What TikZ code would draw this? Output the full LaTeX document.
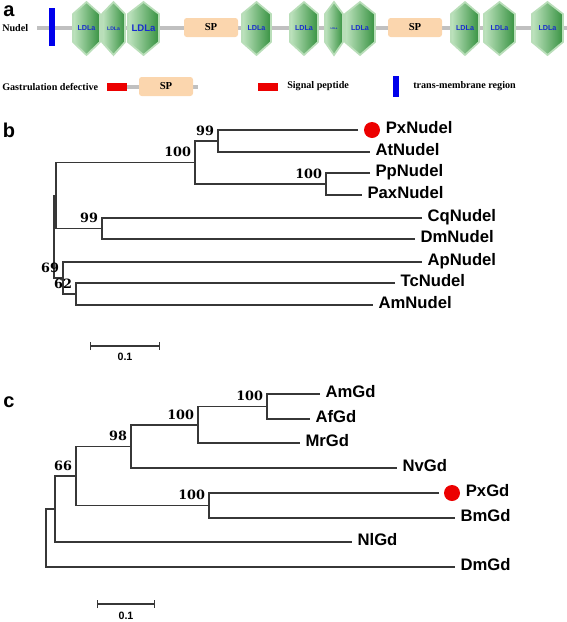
\documentclass[tikz,border=0pt]{standalone}
\usepackage{fontspec}
\setmainfont{Liberation Serif}
\setsansfont{Liberation Sans}
\newfontfamily\bootfont{DejaVu Serif}
\usetikzlibrary{calc,arrows.meta}

\definecolor{ldlagreen}{RGB}{55,146,65}
\definecolor{ldlalight}{RGB}{192,228,192}
\definecolor{ldlaedge}{RGB}{185,222,185}
\definecolor{ldlatext}{RGB}{25,45,205}
\definecolor{spfill}{RGB}{251,214,174}
\definecolor{backbone}{RGB}{192,192,192}
\definecolor{tmblue}{RGB}{0,0,235}
\definecolor{sigred}{RGB}{236,0,0}
\definecolor{treegrey}{RGB}{55,55,55}

\begin{document}
\begin{tikzpicture}[x=0.75pt,y=-0.75pt,
    panel/.style={inner sep=0pt, font=\sffamily\bfseries\fontsize{15}{15}\selectfont},
    lab/.style={anchor=mid west, inner sep=0pt, font=\bfseries\fontsize{7.6}{9}\selectfont},
    ldla/.style={draw=ldlaedge, line width=1.3pt, left color=ldlalight, right color=ldlagreen},
    spbox/.style={fill=spfill, rounded corners=2pt},
    branch/.style={draw=treegrey, line width=0.9pt},
    tiplab/.style={anchor=mid west, inner sep=0pt, xshift=4pt, font=\sffamily\bfseries\fontsize{12.5}{14}\selectfont},
    boot/.style={anchor=south east, inner sep=0pt, xshift=-2.8pt, yshift=4pt, font=\bootfont\bfseries\fontsize{9.6}{11}\selectfont},
    reddot/.style={circle, fill=sigred, minimum size=12pt, inner sep=0pt},
    scalebar/.style={branch, {Bar[width=6pt]}-{Bar[width=6pt]}},
    scalelab/.style={inner sep=0pt, font=\sffamily\bfseries\fontsize{8}{9}\selectfont}]
    \useasboundingbox (0,0) rectangle (567,622);

    % panel a: domain structure
    \node[panel] (pa) at (9,11) {a};
    \node[lab] (nudel) at (2,28) {Nudel};
    \draw[backbone, line width=3.4pt] (37,28) -- (567,28);
    \fill[tmblue] (49,8) rectangle (55,46);
    \foreach \cx/\hw/\fs [count=\i] in {86.5/13.5/5.4, 113.5/11.5/3.8, 143.5/15.5/7.2,
        256.5/14.5/5.4, 304/14/5.4, 334/9/2, 360/15/5.4, 465/14/5.4, 499.5/15.5/5.4, 547.5/15.5/5.4}{
        \draw[ldla] (\cx,2) -- (\cx+\hw,14) -- (\cx+\hw,42) -- (\cx,55)
            -- (\cx-\hw,42) -- (\cx-\hw,14) -- cycle;
        \node[text=ldlatext, inner sep=0pt, font=\sffamily\bfseries\fontsize{\fs}{\fs}\selectfont]
            (ldla\i) at (\cx,28.5) {LDLa};
    }
    \foreach \xl/\xr [count=\i] in {184/238, 388/442}{
        \fill[spbox] (\xl,18) rectangle (\xr,37);
        \node[inner sep=0pt, font=\bfseries\fontsize{8}{9}\selectfont] (sp\i) at ({(\xl+\xr)/2},27.5) {SP};
    }
    % legend row
    \node[lab] (gd) at (2,87) {Gastrulation defective};
    \draw[backbone, line width=3.4pt] (127,87) -- (198,87);
    \fill[sigred] (107,83) rectangle (127,91);
    \fill[spbox] (139,77) rectangle (193,96);
    \node[inner sep=0pt, font=\bfseries\fontsize{8}{9}\selectfont] (sp3) at (166,86.5) {SP};
    \fill[sigred] (258,83) rectangle (278,91);
    \node[lab] (sig) at (287,85) {Signal peptide};
    \fill[tmblue] (393,76) rectangle (399,97);
    \node[lab] (tm) at (413,85) {trans-membrane region};

    % panel b: Nudel tree
    \node[panel] (pb) at (9,130) {b};
    \coordinate (px) at (358,130);
    \coordinate (at) at (370,152);
    \coordinate (pp) at (370,173);
    \coordinate (pax) at (362,195);
    \coordinate (cq) at (422,218);
    \coordinate (dm) at (415,239);
    \coordinate (ap) at (422,262);
    \coordinate (tc) at (395,283);
    \coordinate (am) at (373,305);
    \coordinate (nPxAt) at (218,141);
    \coordinate (nPpPax) at (326,184);
    \coordinate (nPx) at (195,162.5);
    \coordinate (nCqDm) at (102,228.5);
    \coordinate (nUp) at (56,195.5);
    \coordinate (nTcAm) at (76,294);
    \coordinate (nLow) at (63,278);
    \coordinate (rootb) at (54,237);
    \draw[branch] (px) -| (nPxAt) |- (at);
    \draw[branch] (pp) -| (nPpPax) |- (pax);
    \draw[branch] (nPxAt) -| (nPx) |- (nPpPax);
    \draw[branch] (cq) -| (nCqDm) |- (dm);
    \draw[branch] (nPx) -| (nUp) |- (nCqDm);
    \draw[branch] (tc) -| (nTcAm) |- (am);
    \draw[branch] (ap) -| (nLow) |- (nTcAm);
    \draw[branch] (nUp) -| (rootb) |- (nLow);
    \node[reddot] (dpx) at (372,130) {};
    \node[tiplab] (lpx) at (dpx.east) {PxNudel};
    \node[tiplab] (lat) at (at) {AtNudel};
    \node[tiplab] (lpp) at (pp) {PpNudel};
    \node[tiplab] (lpax) at (pax) {PaxNudel};
    \node[tiplab] (lcq) at (cq) {CqNudel};
    \node[tiplab] (ldm) at (dm) {DmNudel};
    \node[tiplab] (lap) at (ap) {ApNudel};
    \node[tiplab] (ltc) at (tc) {TcNudel};
    \node[tiplab] (lam) at (am) {AmNudel};
    \node[boot] (b1) at (nPxAt) {99};
    \node[boot] (b2) at (nPx) {100};
    \node[boot] (b3) at (nPpPax) {100};
    \node[boot] (b4) at (nCqDm) {99};
    \node[boot] (b5) at (nLow) {69};
    \node[boot] (b6) at (nTcAm) {62};
    \coordinate (sbl) at (90,346);
    \coordinate (sbr) at (160,346);
    \draw[scalebar] (sbl) -- (sbr);
    \node[scalelab] (sblab) at (125,357) {0.1};

    % panel c: Gd tree
    \node[panel] (pc) at (9,402) {c};
    \coordinate (amg) at (320,394);
    \coordinate (afg) at (310,419);
    \coordinate (mrg) at (300,443);
    \coordinate (nvg) at (397,468);
    \coordinate (pxg) at (439,493);
    \coordinate (bmg) at (455,518);
    \coordinate (nlg) at (352,542);
    \coordinate (dmg) at (455,567);
    \coordinate (nAmAf) at (267,406.5);
    \coordinate (nMr) at (198,425);
    \coordinate (nNv) at (131,446.5);
    \coordinate (nPxBm) at (209,505.5);
    \coordinate (nHym) at (76,476);
    \coordinate (nNl) at (55,509);
    \coordinate (rootc) at (46,538);
    \draw[branch] (amg) -| (nAmAf) |- (afg);
    \draw[branch] (nAmAf) -| (nMr) |- (mrg);
    \draw[branch] (nMr) -| (nNv) |- (nvg);
    \draw[branch] (pxg) -| (nPxBm) |- (bmg);
    \draw[branch] (nNv) -| (nHym) |- (nPxBm);
    \draw[branch] (nHym) -| (nNl) |- (nlg);
    \draw[branch] (nNl) -| (rootc) |- (dmg);
    \node[reddot] (dpxg) at (452,493) {};
    \node[tiplab] (lamg) at (amg) {AmGd};
    \node[tiplab] (lafg) at (afg) {AfGd};
    \node[tiplab] (lmrg) at (mrg) {MrGd};
    \node[tiplab] (lnvg) at (nvg) {NvGd};
    \node[tiplab] (lpxg) at (dpxg.east) {PxGd};
    \node[tiplab] (lbmg) at (bmg) {BmGd};
    \node[tiplab] (lnlg) at (nlg) {NlGd};
    \node[tiplab] (ldmg) at (dmg) {DmGd};
    \node[boot] (c1) at (nAmAf) {100};
    \node[boot] (c2) at (nMr) {100};
    \node[boot] (c3) at (nNv) {98};
    \node[boot] (c4) at (nHym) {66};
    \node[boot] (c5) at (nPxBm) {100};
    \coordinate (scl) at (97,604);
    \coordinate (scr) at (155,604);
    \draw[scalebar] (scl) -- (scr);
    \node[scalelab] (sclab) at (126,616) {0.1};
\end{tikzpicture}
\end{document}
